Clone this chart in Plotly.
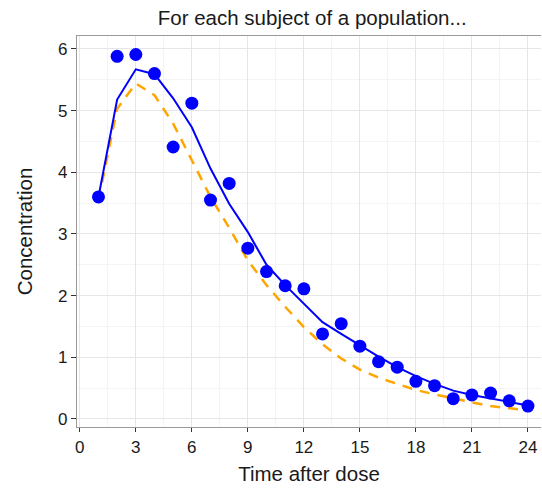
import plotly.graph_objects as go

time = list(range(1, 25))
observed = [3.60, 5.88, 5.91, 5.60, 4.41, 5.12, 3.55, 3.82, 2.77, 2.39, 2.16, 2.11,
            1.38, 1.545, 1.18, 0.93, 0.84, 0.61, 0.54, 0.33, 0.39, 0.42, 0.295, 0.21]
individual_pred = [3.60, 5.18, 5.67, 5.59, 5.20, 4.73, 4.06, 3.49, 3.03, 2.50, 2.17, 1.87,
                   1.57, 1.38, 1.19, 1.01, 0.84, 0.695, 0.57, 0.46, 0.39, 0.33, 0.27, 0.22]
population_pred = [3.55, 5.03, 5.44, 5.25, 4.79, 4.20, 3.60, 3.10, 2.57, 2.17, 1.82, 1.49,
                   1.21, 0.98, 0.80, 0.67, 0.57, 0.47, 0.40, 0.33, 0.27, 0.21, 0.18, 0.14]
x_ticks = [0, 3, 6, 9, 12, 15, 18, 21, 24]
y_ticks = [0, 1, 2, 3, 4, 5, 6]

font = "Liberation Sans, Arial, sans-serif"
text_color = "#1a1a1a"

fig = go.Figure()
fig.add_trace(go.Scatter(x=time, y=population_pred, mode="lines",
                         line=dict(color="#FFA500", width=2.5, dash="10px,8px"),
                         showlegend=False))
fig.add_trace(go.Scatter(x=time, y=individual_pred, mode="lines",
                         line=dict(color="#0000FF", width=2),
                         showlegend=False))
fig.add_trace(go.Scatter(x=time, y=observed, mode="markers",
                         marker=dict(color="#0000FF", size=13, line=dict(width=0)),
                         showlegend=False))

fig.update_layout(
    width=542, height=492,
    margin=dict(l=77, r=1, t=36, b=65, autoexpand=False),
    paper_bgcolor="white", plot_bgcolor="white",
    font=dict(family=font, color=text_color),
    title=dict(text="For each subject of a population...", x=0.576, xanchor="center",
               y=0.963, yanchor="middle", font=dict(size=20.5, color=text_color)),
)
fig.update_xaxes(
    range=[-0.15, 24.7], tickvals=x_ticks, ticktext=[str(v) for v in x_ticks],
    showgrid=True, gridcolor="#E6E6E6", gridwidth=1.2,
    minor=dict(dtick=1.5, tick0=0, showgrid=True, gridcolor="#F4F4F4", gridwidth=1),
    showline=True, mirror=True, linecolor="#9A9A9A", linewidth=1.2,
    ticks="outside", ticklen=4, tickcolor="#333333", tickwidth=1.2,
    tickfont=dict(size=17, color=text_color), zeroline=False, automargin=False,
    title=dict(text="Time after dose", font=dict(size=20.5, color=text_color), standoff=11),
)
fig.update_yaxes(
    range=[-0.13, 6.21], tickvals=y_ticks, ticktext=[str(v) for v in y_ticks],
    showgrid=True, gridcolor="#E6E6E6", gridwidth=1.2,
    minor=dict(dtick=0.5, tick0=0, showgrid=True, gridcolor="#F4F4F4", gridwidth=1),
    showline=True, mirror=False, linecolor="#9A9A9A", linewidth=1.2,
    ticks="outside", ticklen=5, tickcolor="#333333", tickwidth=1.2,
    tickfont=dict(size=17, color=text_color), zeroline=False, automargin=False,
    title=dict(text="Concentration", font=dict(size=20.5, color=text_color), standoff=19),
)

fig.write_html("out.html", config={"displayModeBar": False},
               post_script="document.body.style.margin='0';document.body.style.padding='0';")
